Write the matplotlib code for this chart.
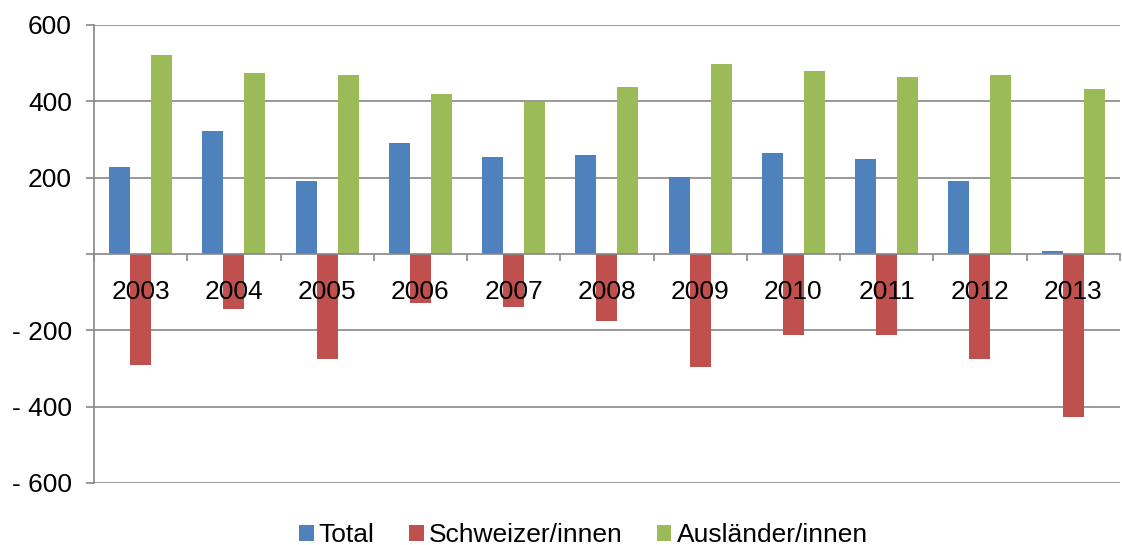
import numpy as np
import matplotlib
matplotlib.use("Agg")
import matplotlib.pyplot as plt

plt.rcParams['font.family'] = ['Liberation Sans', 'DejaVu Sans']

# data
years = ['2003', '2004', '2005', '2006', '2007', '2008', '2009', '2010', '2011', '2012', '2013']
total = [228, 322, 191, 291, 254, 259, 202, 265, 249, 191, 7]
schweizer = [-290, -143, -275, -128, -138, -176, -296, -213, -213, -275, -428]
auslaender = [522, 475, 470, 418, 397, 438, 497, 480, 464, 470, 433]
series_names = ['Total', 'Schweizer/innen', 'Ausländer/innen']
colors = ['#4F81BD', '#C0504D', '#9BBB59']
yticks = [-600, -400, -200, 0, 200, 400, 600]

fig = plt.figure(figsize=(11.22, 5.45), dpi=100)
ax = fig.add_axes([94 / 1122, 1 - 483 / 545, 1 - 94 / 1122 - 0.002, (483 - 25) / 545])

x = np.arange(len(years))
w = 0.225
for i, (vals, name, c) in enumerate(zip([total, schweizer, auslaender], series_names, colors)):
    ax.bar(x + (i - 1) * w, vals, w, color=c, label=name, zorder=2)

grid_col = '#878787'
for t in yticks:
    if t != 0:
        ax.axhline(t, color=grid_col, lw=1.2, zorder=0.5)

ax.set_xlim(-0.5, len(years) - 0.5)
ax.set_ylim(-600, 600)

ax.set_yticks(yticks)
ax.set_yticklabels([('- %d' % -t) if t < 0 else ('' if t == 0 else str(t)) for t in yticks])
ax.tick_params(axis='y', length=6, width=1.2, color=grid_col, pad=10, labelsize=19)

for s in ['top', 'right']:
    ax.spines[s].set_visible(False)
ax.spines['left'].set_color(grid_col)
ax.spines['left'].set_linewidth(1.2)
ax.spines['bottom'].set_position(('data', 0))
ax.spines['bottom'].set_color(grid_col)
ax.spines['bottom'].set_linewidth(1.2)
ax.spines['bottom'].set_zorder(3)

ax.set_xticks(x)
ax.set_xticklabels(years)
ax.set_xticks(np.arange(len(years) + 1) - 0.5, minor=True)
ax.tick_params(axis='x', which='major', length=0, pad=19, labelsize=19)
ax.tick_params(axis='x', which='minor', length=5, width=1.2, color=grid_col)
ax.xaxis.set_zorder(3)

fig.legend(loc='center', bbox_to_anchor=(0.52, 1 - 535 / 545), ncol=3, frameon=False,
           fontsize=19, handlelength=0.55, handleheight=0.55, handletextpad=0.2,
           columnspacing=1.3, borderaxespad=0)

fig.savefig('out.png', dpi=100)
